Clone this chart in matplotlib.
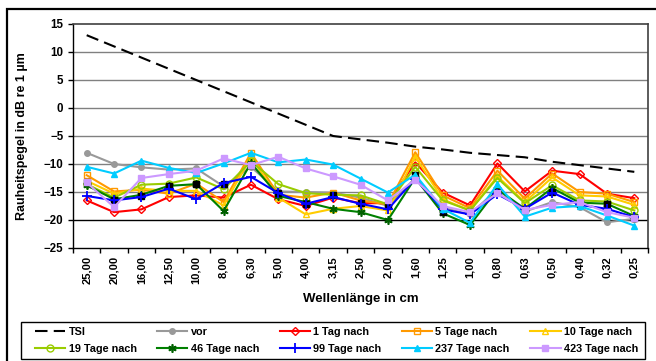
import matplotlib
matplotlib.use("Agg")
import matplotlib.pyplot as plt
from matplotlib.patches import Rectangle
import numpy as np

plt.rcParams['font.family'] = ['Liberation Sans', 'DejaVu Sans']
plt.rcParams['font.weight'] = 'bold'

wavelengths = ["25,00", "20,00", "16,00", "12,50", "10,00", "8,00", "6,30", "5,00",
               "4,00", "3,15", "2,50", "2,00", "1,60", "1,25", "1,00", "0,80",
               "0,63", "0,50", "0,40", "0,32", "0,25"]

tsi = [13, 11, 9, 7, 5, 3, 1, -1, -3, -5, -5.6, -6.2, -6.9, -7.4, -8.0, -8.4,
       -8.8, -9.6, -10.2, -10.8, -11.4]
vor = [-8.0, -10.0, -10.6, -11.0, -10.8, -14.0, -10.5, -14.9, -15.0, -15.1, -16.0,
       -17.5, -12.5, -17.8, -19.0, -14.5, -18.5, -16.8, -17.7, -20.4, -19.8]
tag1 = [-16.5, -18.6, -18.1, -15.9, -15.6, -16.0, -13.7, -16.3, -17.5, -16.0, -17.0,
        -17.0, -9.7, -15.1, -17.4, -9.9, -14.9, -11.2, -11.8, -15.3, -16.1]
tage5 = [-12.0, -14.9, -14.6, -15.3, -13.5, -16.8, -8.0, -15.5, -16.0, -15.1, -16.5,
         -17.2, -7.9, -15.6, -17.9, -11.2, -16.2, -11.7, -15.0, -15.3, -16.8]
tage10 = [-13.0, -15.3, -14.4, -14.8, -14.8, -17.4, -8.8, -16.0, -19.0, -18.0, -17.5,
          -18.3, -8.7, -16.3, -18.3, -12.2, -16.8, -12.4, -15.6, -15.8, -17.3]
tage19 = [-13.6, -16.0, -13.7, -13.5, -12.4, -14.5, -9.5, -13.6, -15.2, -15.5, -15.6,
          -17.2, -10.5, -16.5, -18.3, -12.5, -17.0, -13.8, -16.5, -16.7, -18.3]
tage46 = [-13.8, -16.3, -15.5, -13.9, -13.6, -18.4, -9.8, -15.7, -16.8, -18.0, -18.6,
          -20.0, -12.5, -18.8, -20.9, -14.5, -18.0, -14.3, -16.9, -17.1, -19.3]
mittel = [-13.3, -16.5, -15.7, -14.0, -13.6, -13.5, -10.2, -15.2, -17.1, -15.6, -16.9,
          -17.5, -12.0, -18.6, -18.6, -15.0, -18.0, -15.0, -17.1, -17.1, -19.6]
tage99 = [-15.7, -16.5, -15.9, -14.4, -16.3, -13.4, -12.3, -15.2, -17.1, -15.9, -17.1,
          -18.1, -12.6, -18.1, -19.0, -15.4, -18.0, -15.1, -17.3, -18.0, -19.5]
tage237 = [-10.5, -11.7, -9.4, -10.7, -11.6, -9.9, -8.0, -9.7, -9.2, -10.1, -12.6,
           -15.1, -11.9, -18.0, -20.5, -13.6, -19.4, -17.8, -17.5, -19.2, -21.0]
tage423 = [-13.3, -17.7, -12.5, -11.8, -11.2, -9.0, -10.2, -8.7, -10.8, -12.2, -13.7,
           -16.5, -12.8, -17.5, -18.6, -15.2, -18.2, -17.3, -16.8, -18.6, -19.6]

W, H = 656, 361
fig = plt.figure(figsize=(W / 100, H / 100), dpi=100)

# outer chart frame
fig.patches.append(Rectangle((6.7 / W, -0.2), 1.2, (H - 9.3) / H + 0.2,
                             transform=fig.transFigure, fill=False,
                             edgecolor='black', lw=1.6, clip_on=False))

ax = fig.add_axes([73 / W, (H - 248) / H, 575 / W, 224 / H])
x = np.arange(len(wavelengths))

ax.set_xlim(-0.5, len(wavelengths) - 0.5)
ax.set_ylim(-25, 15)
ax.set_yticks(np.arange(-25, 16, 5))

for yv in np.arange(-20, 15, 5):
    ax.axhline(yv, color='black' if yv == -20 else '#808080', lw=1.0, zorder=0.5)

for side in ('top', 'right'):
    ax.spines[side].set_color('#404040')
    ax.spines[side].set_linewidth(1.2)
for side in ('left', 'bottom'):
    ax.spines[side].set_color('black')
    ax.spines[side].set_linewidth(1.0)

ax.set_xticks(x)
ax.set_xticklabels(wavelengths, rotation=90, fontsize=8, fontweight='bold')
ax.set_xticks(np.arange(-0.5, len(wavelengths)), minor=True)
ax.tick_params(axis='x', which='major', length=0, pad=6)
ax.tick_params(axis='x', which='minor', length=3.8, width=1.0, direction='out')
ax.tick_params(axis='y', which='major', length=3.8, width=1.0, direction='out',
               pad=3.2, labelsize=8.3)
for lab in ax.get_yticklabels():
    lab.set_fontweight('bold')

lw = 1.5
ms = 5
h_tsi, = ax.plot(x, tsi, color='black', lw=lw, linestyle=(0, (6, 3)), label='TSI')
h_vor, = ax.plot(x, vor, color='#999999', lw=lw, marker='o', ms=4,
                 mfc='#999999', mec='#999999', label='vor')
h_1, = ax.plot(x, tag1, color='#FF0000', lw=lw, marker='D', ms=4.5,
               mfc='none', mec='#FF0000', label='1 Tag nach')
h_5, = ax.plot(x, tage5, color='#FF9900', lw=lw, marker='s', ms=ms,
               mfc='none', mec='#FF9900', label='5 Tage nach')
h_10, = ax.plot(x, tage10, color='#FFCC00', lw=lw, marker='^', ms=ms,
                mfc='none', mec='#FFCC00', label='10 Tage nach')
h_19, = ax.plot(x, tage19, color='#99CC00', lw=lw, marker='o', ms=ms,
                mfc='none', mec='#99CC00', label='19 Tage nach')
h_46, = ax.plot(x, tage46, color='#008000', lw=lw, marker=(6, 2, 0), ms=6,
                mec='#006000', mew=1.2, label='46 Tage nach')
ax.plot(x, mittel, linestyle='none', marker='s', ms=5, mfc='black', mec='black')
h_99, = ax.plot(x, tage99, color='#0000FF', lw=lw, marker='+', ms=7,
                mec='#0000FF', mew=1.3, label='99 Tage nach')
h_237, = ax.plot(x, tage237, color='#00CCFF', lw=lw, marker='^', ms=ms,
                 mfc='#00CCFF', mec='#00CCFF', label='237 Tage nach')
h_423, = ax.plot(x, tage423, color='#CC99FF', lw=lw, marker='s', ms=ms,
                 mfc='#CC99FF', mec='#CC99FF', label='423 Tage nach')

fig.text(22 / W, 1 - 136 / H, 'Rauheitspegel in dB re 1 µm', rotation=90,
         ha='center', va='center', fontsize=9, fontweight='bold')
fig.text(360.5 / W, 1 - 299 / H, 'Wellenlänge in cm', ha='center', va='center',
         fontsize=9.5, fontweight='bold')

# legend box and entries
fig.patches.append(Rectangle((21 / W, 1 - 359 / H), 624 / W, 37 / H,
                             transform=fig.transFigure, fill=True,
                             facecolor='white', edgecolor='black', lw=1.0))
handles = [h_tsi, h_19, h_vor, h_46, h_1, h_99, h_5, h_237, h_10, h_423]
leg = fig.legend(handles, [h.get_label() for h in handles], ncol=5,
                 loc='center', mode='expand',
                 bbox_to_anchor=(35 / W, 1 - 340.4 / H, 603 / W, 0.001),
                 fontsize=7.8, frameon=False, borderaxespad=0, handlelength=2.8,
                 handletextpad=0.3, labelspacing=0.65, borderpad=0)
for t in leg.get_texts():
    t.set_fontweight('bold')

fig.savefig('out.png', dpi=100)
